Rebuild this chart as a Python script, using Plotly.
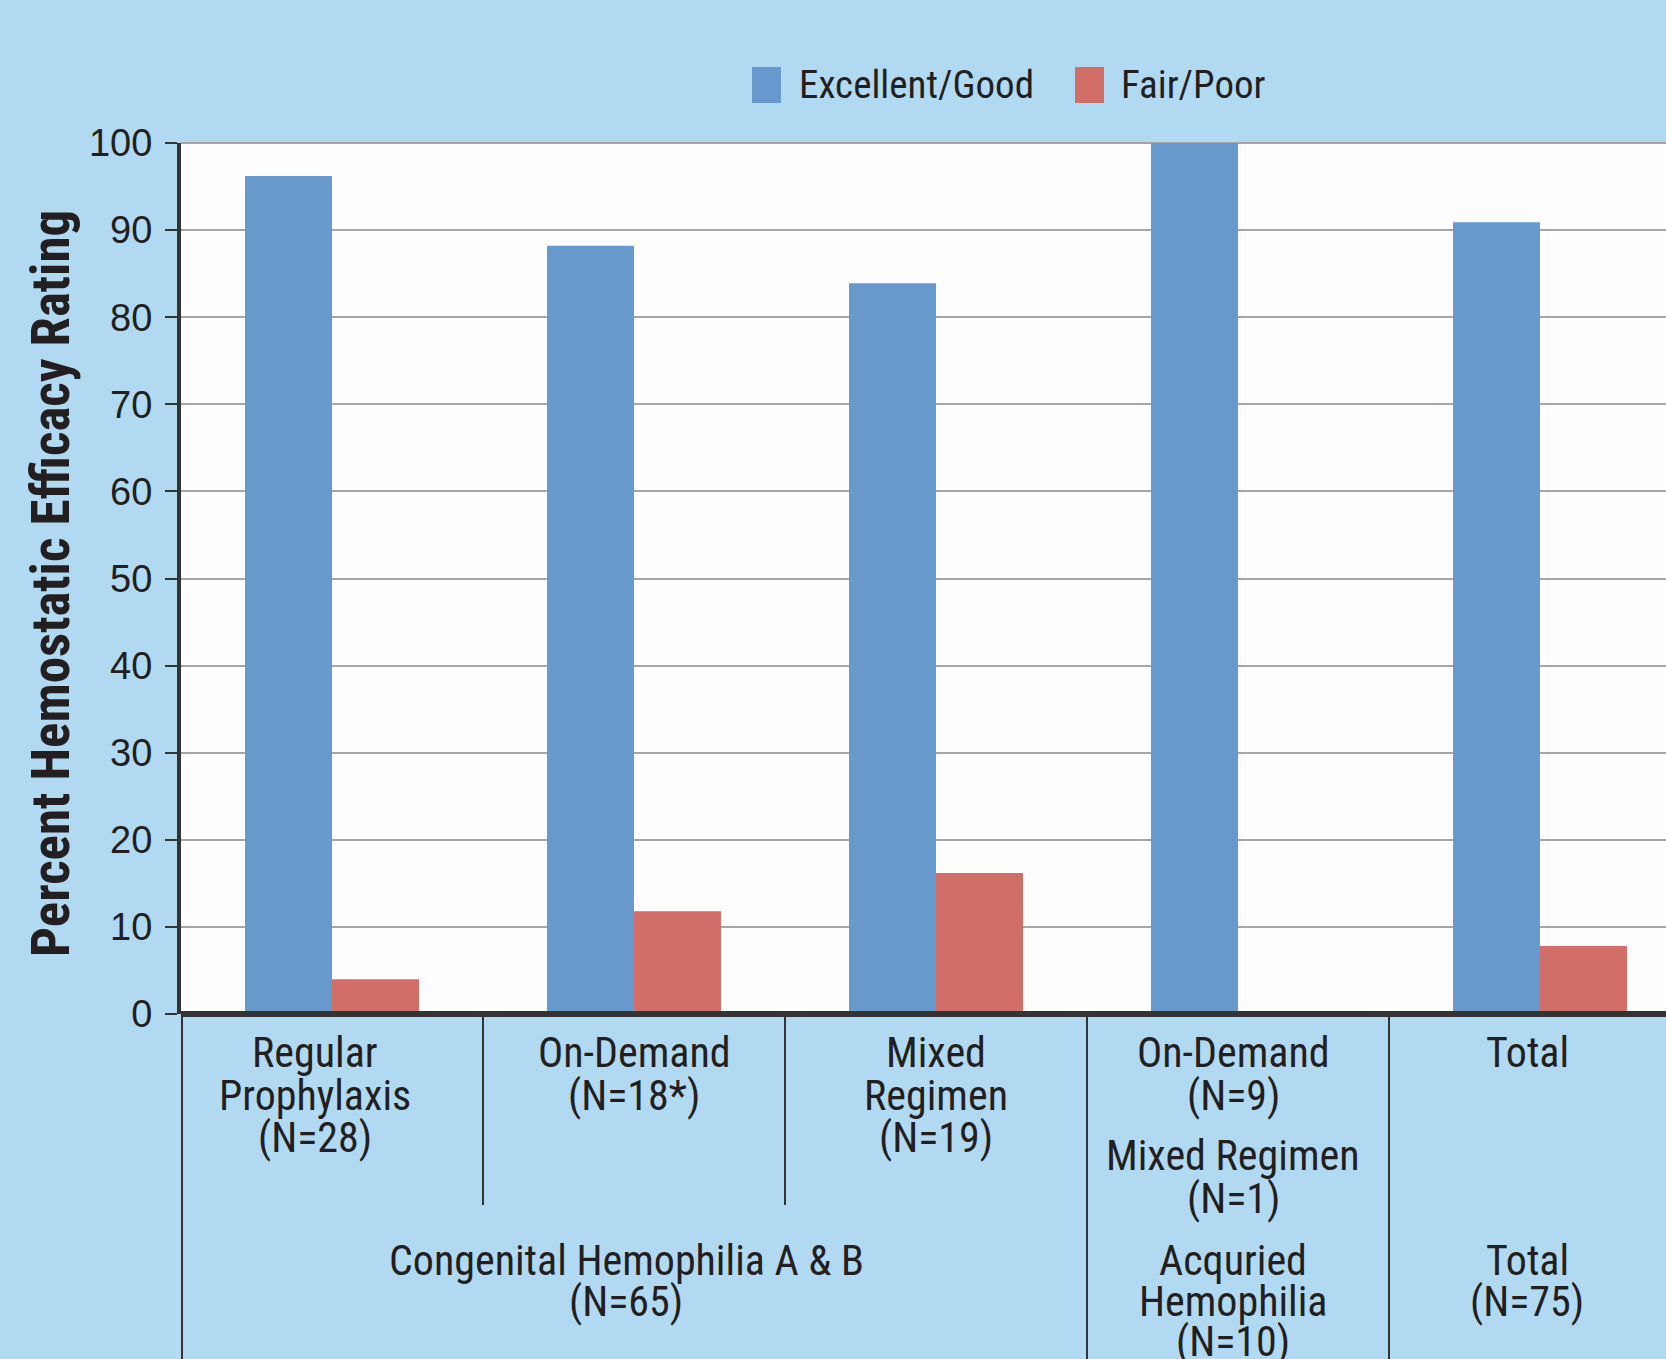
import plotly.graph_objects as go

# ---------------- data ----------------
categories = ["Regular Prophylaxis", "On-Demand", "Mixed Regimen", "Acquired Hemophilia", "Total"]
excellent_good = [96.2, 88.2, 83.9, 100.0, 90.9]
fair_poor = [4.0, 11.8, 16.2, 0.0, 7.8]
y_ticks = [0, 10, 20, 30, 40, 50, 60, 70, 80, 90, 100]

series_names = ["Excellent/Good", "Fair/Poor"]
series_colors = ["#6799CC", "#D16E67"]

cat_lines = [
    ["Regular", "Prophylaxis", "(N=28)"],
    ["On-Demand", "(N=18*)"],
    ["Mixed", "Regimen", "(N=19)"],
    ["On-Demand", "(N=9)"],
    ["Total"],
]
extra_lines = ["Mixed Regimen", "(N=1)"]  # under the Acquired On-Demand column
group_lines = [
    ["Congenital Hemophilia A & B", "(N=65)"],
    ["Acquried", "Hemophilia", "(N=10)"],
    ["Total", "(N=75)"],
]
y_title = "Percent Hemostatic Efficacy Rating"

# ---------------- layout constants (pixels) ----------------
W, H = 1666, 1359
L, T, B = 181, 143, 1014
CAT_W = 302  # pixel width of one category
BG = "#B2D9F2"
TXT = "#231F20"
GRID = "#A6A6A6"
NARROW = "'Roboto Condensed', 'Liberation Sans Narrow', 'Liberation Sans', sans-serif"


def px(xpx):
    return (xpx - L) / (W - L)


def py(ypx):
    return (B - ypx) / (B - T)


x_max = -0.5 + (W - L) / CAT_W

fig = go.Figure()
fig.add_trace(go.Bar(x=list(range(len(categories))), y=excellent_good, name=series_names[0],
                     marker=dict(color=series_colors[0], line=dict(width=0)),
                     hovertext=categories))
fig.add_trace(go.Bar(x=list(range(len(categories))), y=fair_poor, name=series_names[1],
                     marker=dict(color=series_colors[1], line=dict(width=0)),
                     hovertext=categories))

shapes = []
annotations = []

# top grid line at 100 (plot edge)
shapes.append(dict(type="line", xref="paper", yref="paper", x0=0, x1=1.02, y0=1, y1=1,
                   line=dict(color=GRID, width=2), layer="below"))
# baseline (thick) and left border continuing into table
shapes.append(dict(type="line", xref="paper", yref="paper", x0=0, x1=1.02, y0=0, y1=0,
                   line=dict(color="#333333", width=6), layer="above"))
shapes.append(dict(type="line", xref="paper", yref="paper", x0=px(182), x1=px(182),
                   y0=0, y1=py(H + 5), line=dict(color="#333333", width=2)))
# separators below the axis
for xs, yend in [(0.5, 1205), (1.5, 1205), (2.5, H + 5), (3.5, H + 5)]:
    shapes.append(dict(type="line", xref="x", yref="paper", x0=xs, x1=xs,
                       y0=py(1016), y1=py(yend), line=dict(color="#333333", width=2)))

LBL = dict(family=NARROW, size=42, color=TXT)

# category labels
cat_x = [-0.055, 1.0, 2.0, 2.985, 3.957]
row1 = [1052, 1095, 1137]
for i, lines in enumerate(cat_lines):
    for j, t in enumerate(lines):
        annotations.append(dict(text=t, x=cat_x[i], xref="x", y=py(row1[j]), yref="paper",
                                showarrow=False, xanchor="center", yanchor="middle", font=LBL))
row_extra = [1155, 1198]
for j, t in enumerate(extra_lines):
    annotations.append(dict(text=t, x=cat_x[3], xref="x", y=py(row_extra[j]), yref="paper",
                            showarrow=False, xanchor="center", yanchor="middle", font=LBL))
group_x = [0.974, 2.985, 3.957]
row_g = [1260, 1301, 1341]
for i, lines in enumerate(group_lines):
    for j, t in enumerate(lines):
        annotations.append(dict(text=t, x=group_x[i], xref="x", y=py(row_g[j]), yref="paper",
                                showarrow=False, xanchor="center", yanchor="middle", font=LBL))

# y-axis title
annotations.append(dict(text="<b>" + y_title + "</b>", x=px(51), xref="paper", y=py(584), yref="paper",
                        textangle=-90, showarrow=False, xanchor="center", yanchor="middle",
                        font=dict(family=NARROW, size=53, color=TXT)))

# custom legend
leg_sq = [(752, 781), (1075, 1104)]
leg_tx = [797, 1119]
for k in range(2):
    shapes.append(dict(type="rect", xref="paper", yref="paper",
                       x0=px(leg_sq[k][0]), x1=px(leg_sq[k][1]), y0=py(103), y1=py(67),
                       fillcolor=series_colors[k], line=dict(width=0)))
    annotations.append(dict(text=series_names[k], x=px(leg_tx[k]), xref="paper", y=py(85), yref="paper",
                            showarrow=False, xanchor="left", yanchor="middle",
                            font=dict(family=NARROW, size=39, color=TXT)))

fig.update_layout(
    width=W, height=H,
    margin=dict(l=L, r=0, t=T, b=H - B, pad=0),
    paper_bgcolor=BG, plot_bgcolor="#FDFDFD",
    barmode="group", bargap=0.424, bargroupgap=0,
    showlegend=False,
    shapes=shapes, annotations=annotations,
    xaxis=dict(range=[-0.5, x_max], showticklabels=False, showgrid=False, zeroline=False,
               showline=False, ticks="", automargin=False, fixedrange=True),
    yaxis=dict(range=[0, 100], tickvals=y_ticks, showgrid=True, gridcolor=GRID, gridwidth=2,
               zeroline=False, showline=True, linecolor="#333333", linewidth=4,
               ticks="outside", ticklen=12, tickwidth=2, tickcolor="#333333",
               ticklabelstandoff=5,
               tickfont=dict(family="'Liberation Sans', Arial, sans-serif", size=38, color=TXT),
               automargin=False),
)

fig.write_html("out.html")
